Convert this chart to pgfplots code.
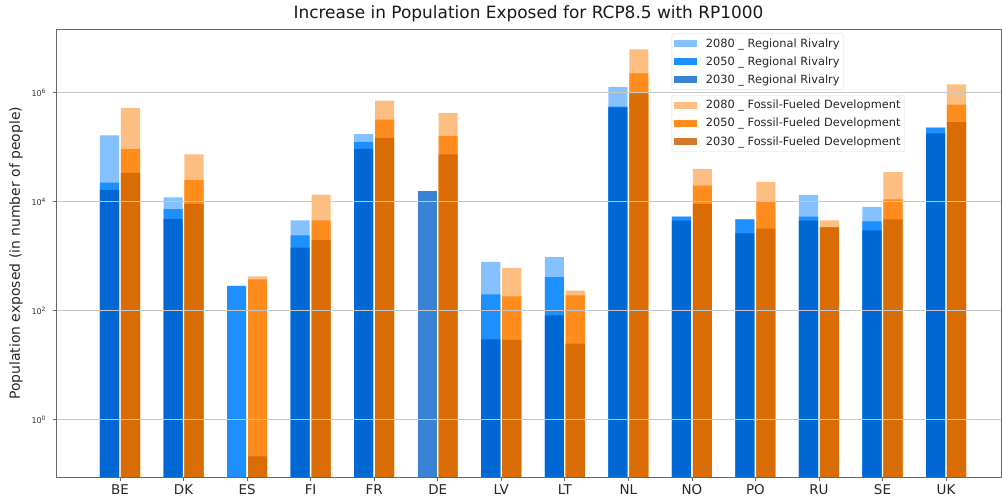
\documentclass[border=0pt]{standalone}
\usepackage{pgfplots}
\pgfplotsset{compat=1.18}
\usepackage{fontspec}
\setmainfont{DejaVu Sans}
\definecolor{rrA}{HTML}{85C1FF}
\definecolor{rrB}{HTML}{1E8FFF}
\definecolor{rrC}{HTML}{0068D4}
\definecolor{rrL}{HTML}{3A82D4}
\definecolor{ffA}{HTML}{FDBE82}
\definecolor{ffB}{HTML}{FF8C1C}
\definecolor{ffC}{HTML}{D96C05}
\definecolor{ffL}{HTML}{D27B2C}
\begin{document}
\begin{tikzpicture}
% Regional Rivalry
\begin{axis}[
  width=945bp, height=448bp, scale only axis,
  xmin=-1.007, xmax=13.865,
  ymode=log, ymin=0.0868, ymax=1.466e7,
  log origin=infty,
  hide axis,
  legend cell align=left,
  legend image code/.code={\fill[#1, draw=none, sharp corners] (0bp,-3.5bp) rectangle (23bp,3.5bp);},
  legend style={at={(0.6515,0.991)}, anchor=north west,
    draw=black!15, fill=white, rounded corners=2bp,
    font=\fontsize{11.4}{13}\selectfont, text=black!85,
    inner xsep=2bp, inner ysep=3bp, row sep=4bp, column sep=7bp},
  ]
\addlegendimage{fill=rrA}\addlegendentry{2080 \_ Regional Rivalry}
\addlegendimage{fill=rrB}\addlegendentry{2050 \_ Regional Rivalry}
\addlegendimage{fill=rrL}\addlegendentry{2030 \_ Regional Rivalry}
\addplot[ybar, bar width=0.3, bar shift=-0.165, draw=none, forget plot, fill=rrA] coordinates {
 (0,1.66e5) (1,1.2e4) (2,283) (3,4.55e3) (4,1.75e5) (6,781) (7,964)
 (8,1.29e6) (9,5.3e3) (10,4.75e3) (11,1.33e4) (12,8.0e3) (13,2.3e5)};
\addplot[ybar, bar width=0.3, bar shift=-0.165, draw=none, forget plot, fill=rrB] coordinates {
 (0,2.24e4) (1,7.3e3) (2,283) (3,2.4e3) (4,1.25e5) (6,199) (7,414)
 (8,5.6e5) (9,5.3e3) (10,4.75e3) (11,5.3e3) (12,4.37e3) (13,2.3e5)};
\addplot[ybar, bar width=0.3, bar shift=-0.165, draw=none, forget plot, fill=rrC] coordinates {
 (0,1.64e4) (1,4.8e3) (3,1.43e3) (4,9.3e4) (6,29.7) (7,82)
 (8,5.4e5) (9,4.48e3) (10,2.63e3) (11,4.48e3) (12,2.98e3) (13,1.8e5)};
\addplot[ybar, bar width=0.3, bar shift=-0.165, draw=none, forget plot, fill=rrL] coordinates {(5,1.6e4)};
\end{axis}
% Fossil-Fueled Development
\begin{axis}[
  width=945bp, height=448bp, scale only axis,
  xmin=-1.007, xmax=13.865,
  ymode=log, ymin=0.0868, ymax=1.466e7,
  log origin=infty,
  axis on top,
  legend cell align=left,
  legend image code/.code={\fill[#1, draw=none, sharp corners] (0bp,-3.5bp) rectangle (23bp,3.5bp);},
  legend style={at={(0.6515,0.8533)}, anchor=north west,
    draw=black!15, fill=white, rounded corners=2bp,
    font=\fontsize{11.4}{13}\selectfont, text=black!85,
    inner xsep=2bp, inner ysep=3bp, row sep=4bp, column sep=7bp},
  title={Increase in Population Exposed for RCP8.5 with RP1000},
  title style={at={(0.5,1)}, anchor=base, yshift=5bp,
    font=\fontsize{17}{20}\selectfont, text=black!90},
  ylabel={Population exposed (in number of people)},
  ylabel style={at={(-0.0423,0.5)}, anchor=center,
    font=\fontsize{14}{16}\selectfont, text=black!85},
  xtick={0,...,13},
  xticklabels={BE,DK,ES,FI,FR,DE,LV,LT,NL,NO,PO,RU,SE,UK},
  xticklabel style={font=\fontsize{13.5}{15}\selectfont, text=black!85},
  ytick={1,100,10000,1000000},
  yticklabels={10\textsuperscript{0},10\textsuperscript{2},10\textsuperscript{4},10\textsuperscript{6}},
  yticklabel style={font=\fontsize{8}{9}\selectfont, text=black!80, xshift=-3bp},
  tick align=outside, xtick pos=lower, ytick pos=left,
  major tick length=3.5bp,
  tick style={black!60, line width=0.7bp},
  axis line style={black!60, line width=0.8bp},
  ymajorgrids,
  major grid style={black!22, line width=0.7bp},
]
\addlegendimage{fill=ffA}\addlegendentry{2080 \_ Fossil-Fueled Development}
\addlegendimage{fill=ffB}\addlegendentry{2050 \_ Fossil-Fueled Development}
\addlegendimage{fill=ffL}\addlegendentry{2030 \_ Fossil-Fueled Development}
\addplot[ybar, bar width=0.3, bar shift=0.165, draw=none, forget plot, fill=ffA] coordinates {
 (0,5.3e5) (1,7.4e4) (2,427) (3,1.35e4) (4,7.2e5) (5,4.26e5) (6,606) (7,232)
 (8,6.3e6) (9,4.0e4) (10,2.3e4) (11,4.55e3) (12,3.5e4) (13,1.43e6)};
\addplot[ybar, bar width=0.3, bar shift=0.165, draw=none, forget plot, fill=ffB] coordinates {
 (0,9.2e4) (1,2.5e4) (2,376) (3,4.55e3) (4,3.2e5) (5,1.61e5) (6,183) (7,191)
 (8,2.28e6) (9,1.97e4) (10,1.0e4) (11,3.4e3) (12,1.1e4) (13,6.05e5)};
\addplot[ybar, bar width=0.3, bar shift=0.165, draw=none, forget plot, fill=ffC] coordinates {
 (0,3.4e4) (1,9.1e3) (2,0.21) (3,1.96e3) (4,1.48e5) (5,7.4e4) (6,28.9) (7,24.7)
 (8,9.8e5) (9,9.1e3) (10,3.2e3) (11,3.39e3) (12,4.75e3) (13,2.9e5)};
\end{axis}
\pgfresetboundingbox
\path[use as bounding box] ([shift={(-56bp,-20.7bp)}]current axis.south west)
  rectangle ([shift={(1bp,29.3bp)}]current axis.north east);
\end{tikzpicture}
\end{document}
